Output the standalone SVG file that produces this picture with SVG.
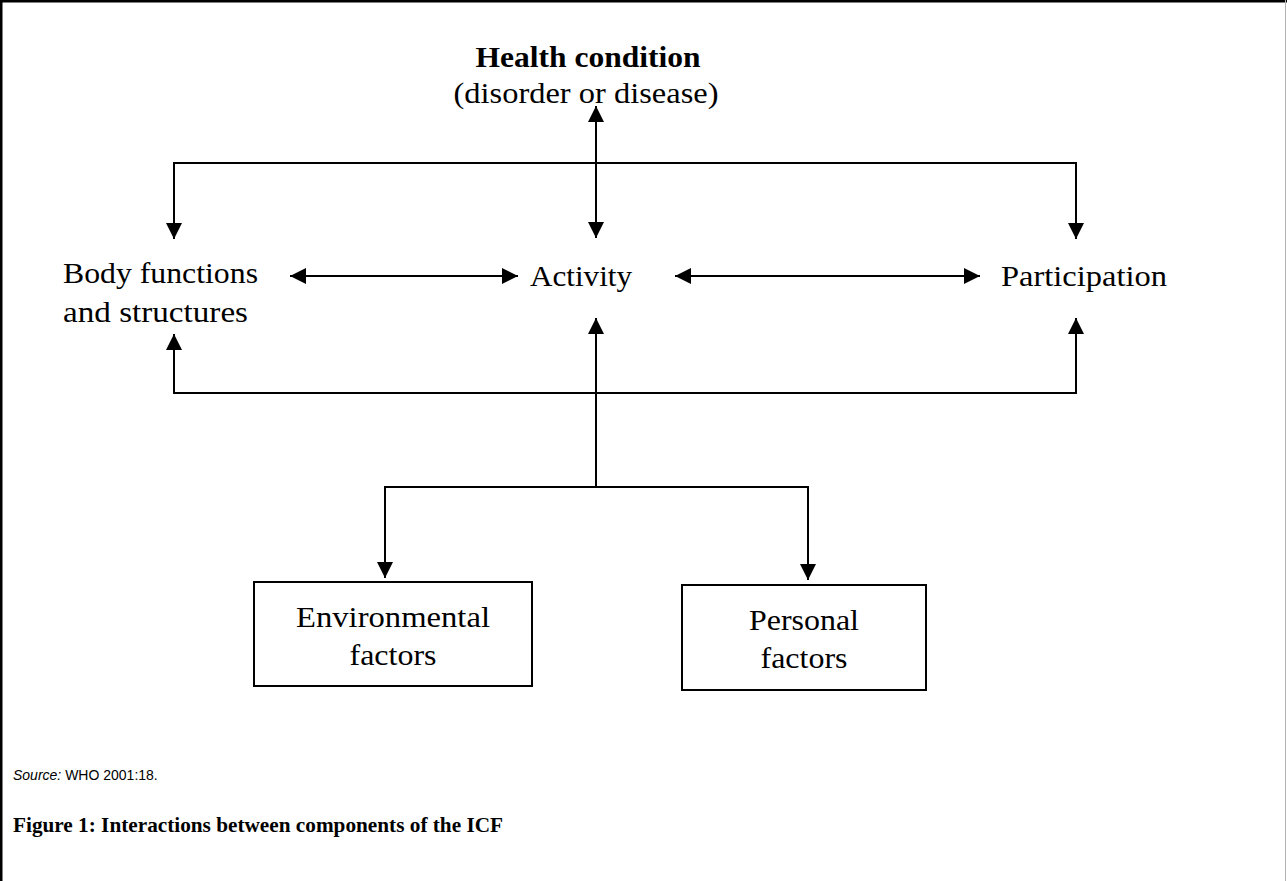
<svg xmlns="http://www.w3.org/2000/svg" width="1287" height="881" viewBox="0 0 1287 881">
<style>
.t{font-family:"Liberation Serif","Times New Roman",serif;font-size:29px;fill:#000}
.b{font-weight:bold}
.m{text-anchor:middle}
.c{fill:none;stroke:#000;stroke-width:2}
.box{fill:#fff;stroke:#000;stroke-width:2}
.src{font-family:"Liberation Sans",Arial,sans-serif;font-size:14px;fill:#000}
</style>
<defs>
<marker id="ah" markerUnits="userSpaceOnUse" markerWidth="16" markerHeight="16" refX="16" refY="8" orient="auto-start-reverse">
<path d="M0,0 L16,8 L0,16 Z" fill="#000"/>
</marker>
</defs>
<rect x="0" y="0" width="1287" height="881" fill="#fff"/>
<g id="frame">
<path d="M1.25,881 V1.25 H1287" fill="none" stroke="#000" stroke-width="2.5"/>
<line x1="1285.5" y1="0" x2="1285.5" y2="881" stroke="#b4b4b4" stroke-width="1"/>
</g>
<g id="connectors">
<path class="c" d="M596,106 V238" marker-start="url(#ah)" marker-end="url(#ah)"/>
<path class="c" d="M174,239 V163 H1076 V239" marker-start="url(#ah)" marker-end="url(#ah)"/>
<path class="c" d="M290,276 H518" marker-start="url(#ah)" marker-end="url(#ah)"/>
<path class="c" d="M675,276 H980" marker-start="url(#ah)" marker-end="url(#ah)"/>
<path class="c" d="M174,334 V393 H1076 V318" marker-start="url(#ah)" marker-end="url(#ah)"/>
<path class="c" d="M596,487 V318" marker-end="url(#ah)"/>
<path class="c" d="M385,578 V487 H808 V580" marker-start="url(#ah)" marker-end="url(#ah)"/>
</g>
<g id="health">
<text class="t b m" x="588" y="67" textLength="225" lengthAdjust="spacingAndGlyphs">Health condition</text>
<text class="t m" x="586" y="103" textLength="265" lengthAdjust="spacingAndGlyphs">(disorder or disease)</text>
</g>
<g id="body">
<text class="t" x="63" y="283" textLength="195" lengthAdjust="spacingAndGlyphs">Body functions</text>
<text class="t" x="63" y="322" textLength="185" lengthAdjust="spacingAndGlyphs">and structures</text>
</g>
<g id="activity">
<text class="t" x="530" y="286" textLength="102" lengthAdjust="spacingAndGlyphs">Activity</text>
</g>
<g id="participation">
<text class="t" x="1001" y="286" textLength="166" lengthAdjust="spacingAndGlyphs">Participation</text>
</g>
<g id="environmental">
<rect class="box" x="254" y="582" width="278" height="104"/>
<text class="t m" x="393" y="627" textLength="194" lengthAdjust="spacingAndGlyphs">Environmental</text>
<text class="t m" x="393" y="665" textLength="87" lengthAdjust="spacingAndGlyphs">factors</text>
</g>
<g id="personal">
<rect class="box" x="682" y="585" width="244" height="105"/>
<text class="t m" x="804" y="630" textLength="110" lengthAdjust="spacingAndGlyphs">Personal</text>
<text class="t m" x="804" y="668" textLength="87" lengthAdjust="spacingAndGlyphs">factors</text>
</g>
<g id="source">
<text class="src" x="13" y="780"><tspan font-style="italic">Source:</tspan> WHO 2001:18.</text>
</g>
<g id="caption">
<text class="t b" x="13" y="832" font-size="21" style="font-size:21px" textLength="490" lengthAdjust="spacingAndGlyphs">Figure 1: Interactions between components of the ICF</text>
</g>
</svg>
